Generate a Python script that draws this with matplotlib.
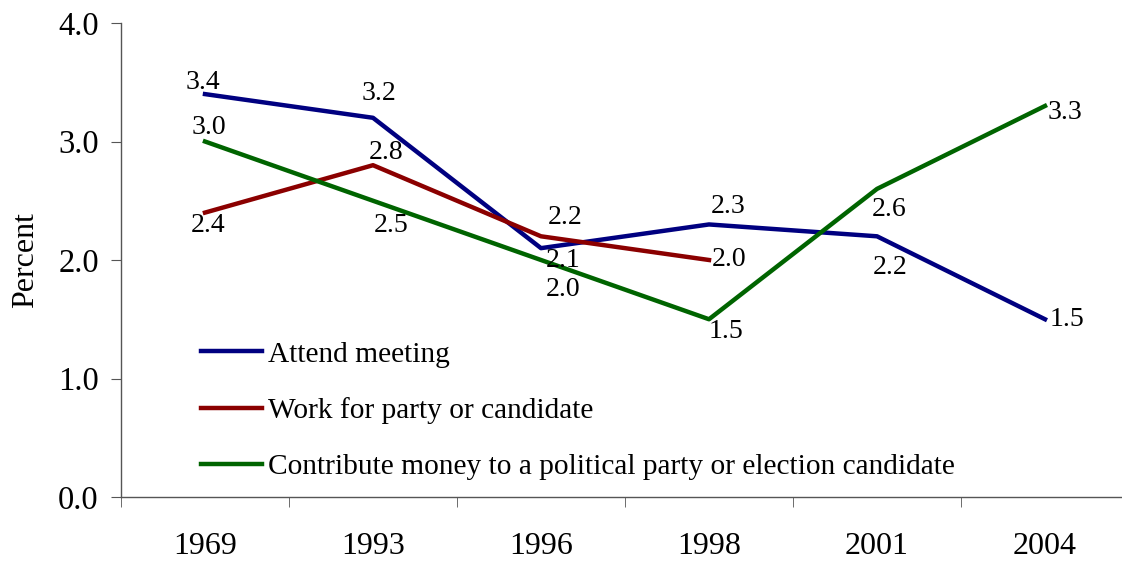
import numpy as np
import matplotlib.pyplot as plt
from matplotlib.ticker import FixedLocator

plt.rcParams['font.family'] = ['Liberation Serif', 'DejaVu Serif']

years = ['1969', '1993', '1996', '1998', '2001', '2004']
attend = [3.4, 3.2, 2.1, 2.3, 2.2, 1.5]
work = [2.4, 2.8, 2.2, 2.0, np.nan, np.nan]
contribute = [3.0, 2.5, 2.0, 1.5, 2.6, 3.3]

names = ['Attend meeting', 'Work for party or candidate',
         'Contribute money to a political party or election candidate']

# label offsets in pixels (dx, dy up)
off_attend = [(-2, 12), (6, 24), (22, -12), (19, 18), (13, -31), (22, 0)]
off_work = [(3, -13), (13, 13), (24, 19), (20, 0), None, None]
off_contrib = [(4, 14), (18, -25), (22, -30), (17, -12), (12, -21), (20, -7)]

fig = plt.figure(figsize=(11.22, 5.62), dpi=100)
ax = fig.add_axes([121 / 1122, 65 / 562, 1008 / 1122, 474 / 562])

x = np.arange(len(years))
series = [(attend, '#000080', off_attend),
          (work, '#8B0000', off_work),
          (contribute, '#006400', off_contrib)]
for (vals, col, offs), name in zip(series, names):
    ax.plot(x, vals, color=col, linewidth=3.2, label=name)
    for xi, v, o in zip(x, vals, offs):
        if o is None or np.isnan(v):
            continue
        ax.annotate('%.1f' % v, (xi, v), xytext=o, textcoords='offset pixels',
                    ha='center', va='center', fontsize=20)

ax.set_xlim(-0.5, len(years) - 0.5)
ax.set_ylim(0, 4)
ax.set_yticks([0, 1, 2, 3, 4])
ax.set_yticklabels(['0.0', '1.0', '2.0', '3.0', '4.0'], fontsize=23.5)
ax.set_xticks(x)
ax.set_xticklabels(years, fontsize=23)
ax.xaxis.set_minor_locator(FixedLocator(np.arange(-0.5, len(years), 1.0)))
ax.tick_params(axis='x', which='major', length=0, pad=25)
ax.tick_params(axis='x', which='minor', length=7, direction='out', color='#555555')
ax.tick_params(axis='y', length=7, direction='out', pad=9, color='#555555')
ax.set_ylabel('Percent', fontsize=23, labelpad=13)

for s in ['top', 'right']:
    ax.spines[s].set_visible(False)
for s in ['left', 'bottom']:
    ax.spines[s].set_color('#555555')
    ax.spines[s].set_linewidth(1)

ax.legend(loc='upper left', bbox_to_anchor=(0.079, 0.329), frameon=False,
          fontsize=21.2, handlelength=2.1, handletextpad=0.2, labelspacing=1.0,
          borderpad=0, borderaxespad=0)

plt.savefig('out.png', dpi=100)
